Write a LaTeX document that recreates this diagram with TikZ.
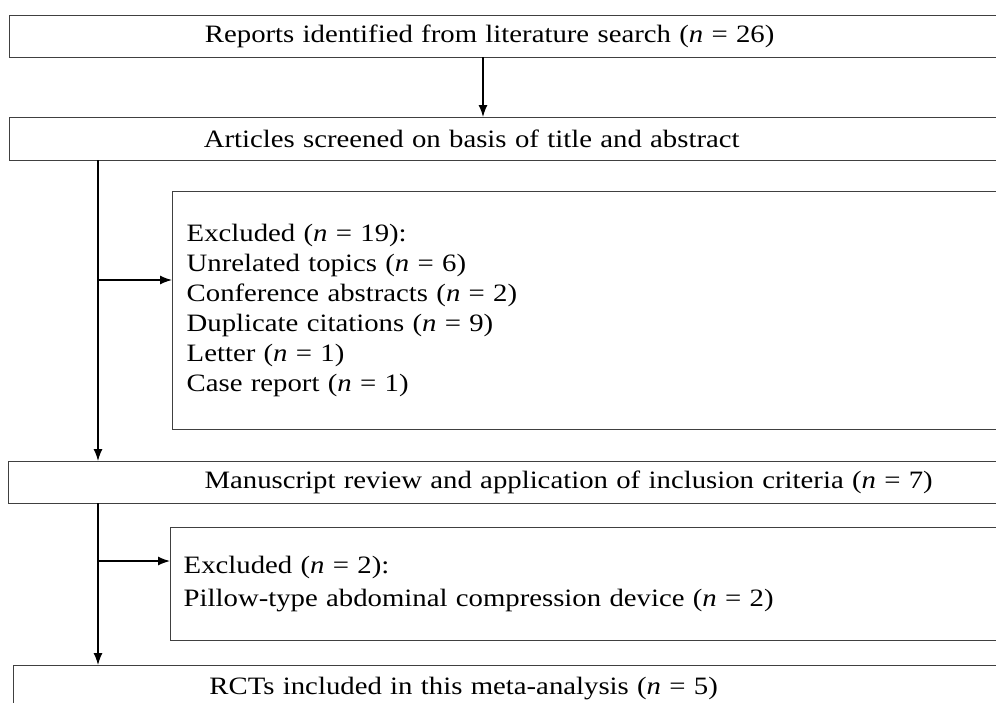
\documentclass[tikz,border=0pt]{standalone}
\usepackage{fontspec}
\setmainfont{Liberation Serif}[FakeStretch=1.15]
\usetikzlibrary{arrows.meta}

\begin{document}
\begin{tikzpicture}
[x=1pt,y=-1pt,font=\fontsize{25}{30}\selectfont]
\tikzset{box/.style={draw=black!75,line width=1.4pt,anchor=north west,inner xsep=0pt,inner ysep=0pt,align=left},
  arr/.style={line width=1.3pt,-{Latex[length=12pt,width=9pt]}}}
\useasboundingbox (0,0) rectangle (996,702);
\clip (0,0) rectangle (996,702);

\node[box,minimum height=42,text width=1121] (r1) at (9,15) {\makebox[960pt]{Reports identified from literature search (\textit{n} = 26)}};
\node[box,minimum height=43,text width=1121] (r2) at (9,117) {\makebox[924pt]{Articles screened on basis of title and abstract}};
\node[box,minimum height=238,text width=930,inner xsep=14pt] (e1) at (172,191) {Excluded (\textit{n} = 19):\\
Unrelated topics (\textit{n} = 6)\\
Conference abstracts (\textit{n} = 2)\\
Duplicate citations (\textit{n} = 9)\\
Letter (\textit{n} = 1)\\
Case report (\textit{n} = 1)};
\node[box,minimum height=42,text width=1122] (r3) at (8,461) {\makebox[1120pt]{Manuscript review and application of inclusion criteria (\textit{n} = 7)}};
\node[box,minimum height=113,text width=934,inner xsep=13pt] (e2) at (170,527) {Excluded (\textit{n} = 2):\\[3pt]
Pillow-type abdominal compression device (\textit{n} = 2)};
\node[box,minimum height=46,text width=1117] (r4) at (13,665) {\makebox[900pt]{RCTs included in this meta-analysis (\textit{n} = 5)}};

\coordinate (a1) at (483,57);
\coordinate (s1) at (98,160);
\coordinate (b1) at (98,280);
\coordinate (s2) at (98,503);
\coordinate (b2) at (98,561);

\draw[line width=1.3pt] (s1) -- (b1);
\draw[line width=1.3pt] (s2) -- (b2);
\foreach \from/\to in {a1/a1 |- r2.north,b1/b1 |- r3.north,b1/b1 -| e1.west,b2/b2 |- r4.north,b2/b2 -| e2.west}
\draw[arr] (\from) -- (\to);
\end{tikzpicture}
\end{document}
